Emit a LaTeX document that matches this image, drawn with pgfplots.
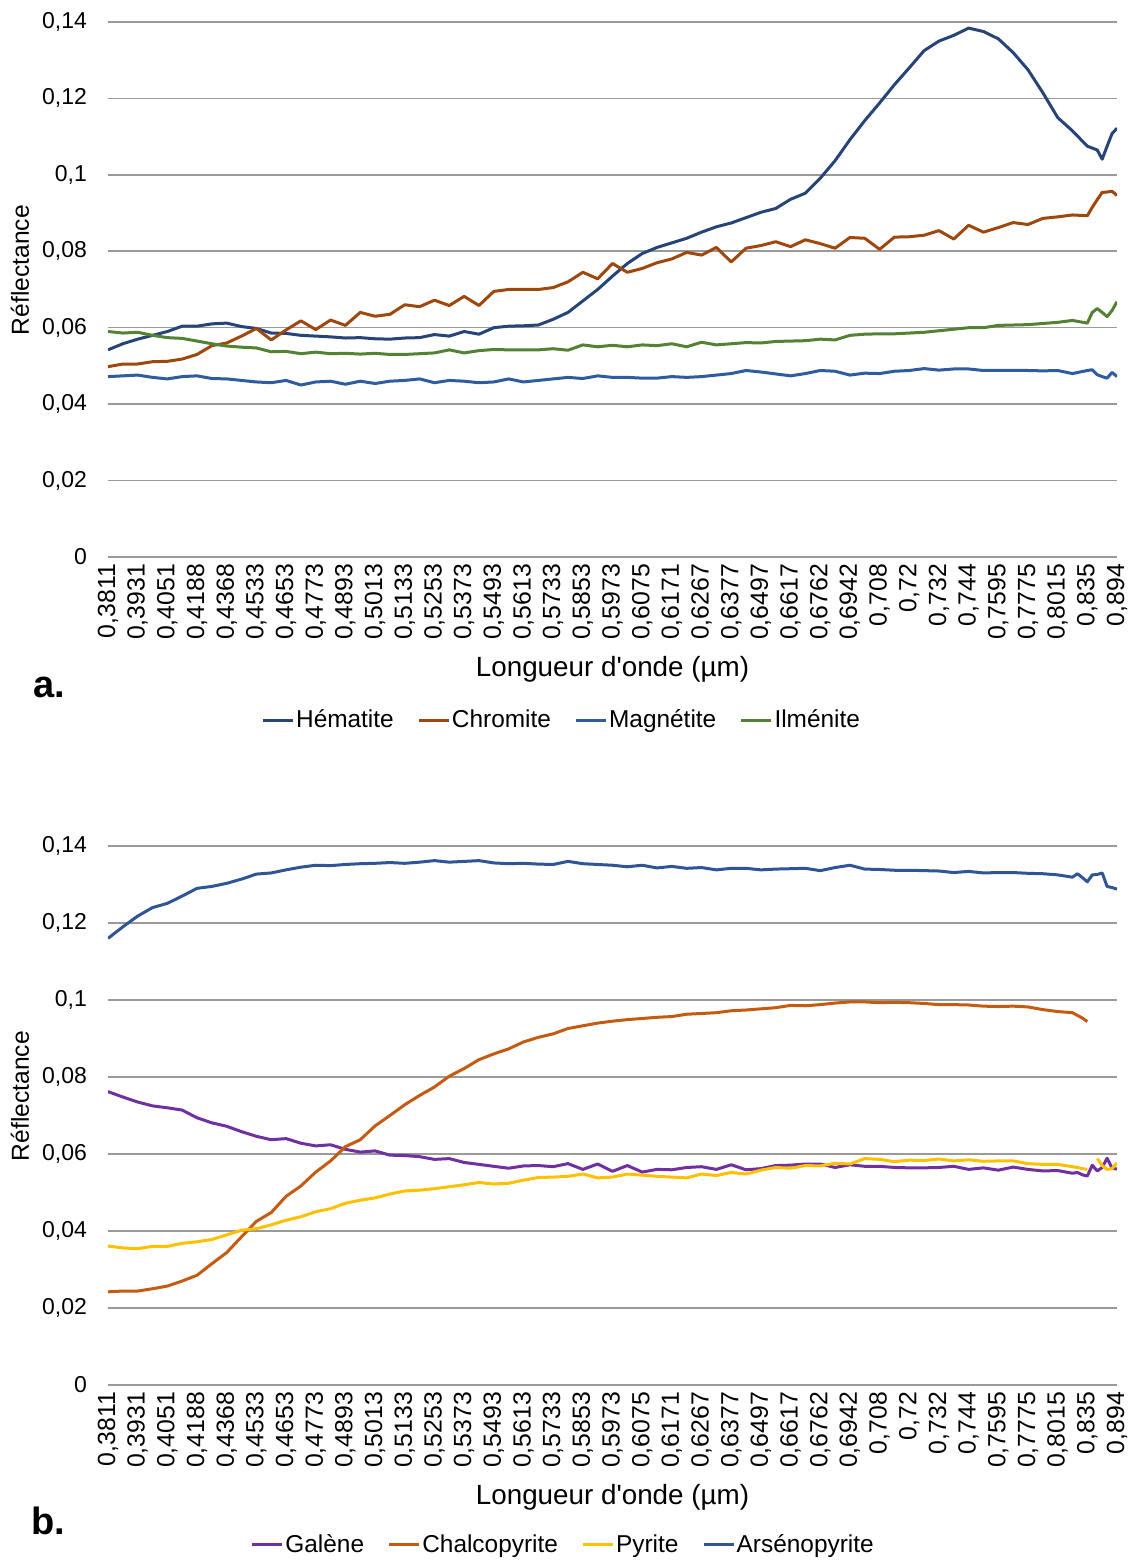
\documentclass[border=0pt]{standalone}
\usepackage{fontspec}
\setmainfont{Liberation Sans}
\usepackage{pgfplots}
\usepackage{pgfplotstable}
\pgfplotsset{compat=1.18}

\definecolor{hem}{HTML}{264478}
\definecolor{chr}{HTML}{9E480E}
\definecolor{mag}{HTML}{2F5C9E}
\definecolor{ilm}{HTML}{548235}
\definecolor{gal}{HTML}{7030A0}
\definecolor{chp}{HTML}{C55A11}
\definecolor{pyr}{HTML}{FFC000}
\definecolor{ars}{HTML}{2F5597}
\definecolor{gridgray}{HTML}{9A9A9A}

% Panel a: oxides (column i = index of the wavelength sample)
\pgfplotstableread{
i    hem    chr    mag    ilm
0   0.0542 0.0498 0.0472 0.0590
3   0.0558 0.0505 0.0474 0.0586
6   0.0570 0.0505 0.0476 0.0588
9   0.0580 0.0511 0.0470 0.0580
12  0.0590 0.0512 0.0466 0.0574
15  0.0604 0.0518 0.0472 0.0572
18  0.0604 0.0530 0.0474 0.0565
21  0.0610 0.0553 0.0467 0.0558
24  0.0612 0.0560 0.0466 0.0552
27  0.0603 0.0578 0.0462 0.0549
30  0.0598 0.0598 0.0458 0.0547
33  0.0586 0.0568 0.0456 0.0537
36  0.0585 0.0594 0.0462 0.0538
39  0.0580 0.0618 0.0450 0.0532
42  0.0578 0.0595 0.0458 0.0536
45  0.0576 0.0620 0.0460 0.0532
48  0.0573 0.0606 0.0452 0.0533
51  0.0574 0.0640 0.0460 0.0531
54  0.0571 0.0630 0.0454 0.0533
57  0.0570 0.0635 0.0460 0.0530
60  0.0573 0.0660 0.0462 0.0530
63  0.0574 0.0655 0.0466 0.0532
66  0.0582 0.0672 0.0456 0.0534
69  0.0578 0.0658 0.0462 0.0542
72  0.0590 0.0682 0.0460 0.0534
75  0.0583 0.0658 0.0456 0.0540
78  0.0600 0.0695 0.0458 0.0543
81  0.0604 0.0700 0.0466 0.0542
84  0.0605 0.0700 0.0458 0.0542
87  0.0607 0.0700 0.0462 0.0542
90  0.0622 0.0705 0.0466 0.0545
93  0.0640 0.0720 0.0470 0.0541
96  0.0670 0.0745 0.0467 0.0555
99  0.0700 0.0728 0.0474 0.0550
102 0.0735 0.0768 0.0470 0.0554
105 0.0768 0.0745 0.0470 0.0550
108 0.0794 0.0755 0.0468 0.0555
111 0.0810 0.0770 0.0468 0.0553
114 0.0822 0.0780 0.0472 0.0558
117 0.0834 0.0797 0.0470 0.0550
120 0.0850 0.0790 0.0472 0.0562
123 0.0864 0.0810 0.0476 0.0555
126 0.0874 0.0772 0.0480 0.0558
129 0.0888 0.0808 0.0488 0.0561
132 0.0902 0.0815 0.0484 0.0560
135 0.0912 0.0825 0.0479 0.0564
138 0.0936 0.0812 0.0474 0.0565
141 0.0952 0.0830 0.0480 0.0566
144 0.0991 0.0820 0.0488 0.0570
147 0.1037 0.0808 0.0486 0.0568
150 0.1092 0.0836 0.0476 0.0580
153 0.1142 0.0834 0.0481 0.0583
156 0.1188 0.0805 0.0480 0.0584
159 0.1236 0.0837 0.0486 0.0584
162 0.1280 0.0838 0.0488 0.0586
165 0.1325 0.0842 0.0493 0.0588
168 0.1350 0.0854 0.0489 0.0592
171 0.1365 0.0832 0.0492 0.0596
174 0.1384 0.0868 0.0492 0.0600
177 0.1375 0.0850 0.0488 0.0600
180 0.1356 0.0862 0.0488 0.0606
183 0.1320 0.0875 0.0488 0.0607
186 0.1275 0.0870 0.0488 0.0608
189 0.1215 0.0886 0.0487 0.0611
192 0.1150 0.0890 0.0488 0.0614
195 0.1115 0.0895 0.0480 0.0619
198 0.1075 0.0893 0.0488 0.0612
199 0.1070 0.0915 0.0490 0.0640
200 0.1065 0.0935 0.0477 0.0650
201 0.1041 0.0954 0.0472 0.0640
202 0.1075 0.0955 0.0468 0.0629
203 0.1108 0.0957 0.0483 0.0645
204 0.1122 0.0946 0.0472 0.0668
}\oxydes

% Panel b: sulphides
\pgfplotstableread{
i    gal    chp    pyr    ars
0   0.0762 0.0242 0.0361 0.1160
3   0.0748 0.0244 0.0356 0.1190
6   0.0735 0.0244 0.0354 0.1218
9   0.0725 0.0250 0.0360 0.1240
12  0.0720 0.0257 0.0360 0.1251
15  0.0714 0.0270 0.0368 0.1270
18  0.0694 0.0285 0.0372 0.1290
21  0.0681 0.0315 0.0378 0.1295
24  0.0672 0.0344 0.0390 0.1303
27  0.0658 0.0385 0.0402 0.1314
30  0.0646 0.0425 0.0406 0.1327
33  0.0637 0.0448 0.0416 0.1330
36  0.0640 0.0490 0.0428 0.1338
39  0.0628 0.0517 0.0437 0.1345
42  0.0621 0.0553 0.0450 0.1350
45  0.0624 0.0582 0.0458 0.1349
48  0.0612 0.0619 0.0472 0.1352
51  0.0605 0.0637 0.0480 0.1354
54  0.0608 0.0673 0.0486 0.1355
57  0.0597 0.0700 0.0496 0.1357
60  0.0596 0.0728 0.0504 0.1355
63  0.0593 0.0752 0.0506 0.1358
66  0.0586 0.0774 0.0510 0.1362
69  0.0588 0.0802 0.0515 0.1358
72  0.0578 0.0822 0.0520 0.1360
75  0.0573 0.0845 0.0526 0.1362
78  0.0568 0.0860 0.0522 0.1356
81  0.0563 0.0873 0.0524 0.1354
84  0.0569 0.0891 0.0532 0.1355
87  0.0570 0.0903 0.0539 0.1353
90  0.0567 0.0912 0.0540 0.1352
93  0.0575 0.0926 0.0542 0.1360
96  0.0560 0.0933 0.0548 0.1354
99  0.0574 0.0940 0.0538 0.1352
102 0.0555 0.0945 0.0540 0.1350
105 0.0570 0.0949 0.0548 0.1346
108 0.0553 0.0952 0.0545 0.1350
111 0.0560 0.0955 0.0542 0.1343
114 0.0559 0.0957 0.0540 0.1347
117 0.0565 0.0963 0.0538 0.1342
120 0.0567 0.0965 0.0548 0.1344
123 0.0560 0.0967 0.0544 0.1338
126 0.0572 0.0972 0.0552 0.1342
129 0.0559 0.0974 0.0548 0.1342
132 0.0562 0.0977 0.0558 0.1338
135 0.0570 0.0980 0.0565 0.1340
138 0.0571 0.0986 0.0563 0.1341
141 0.0574 0.0985 0.0570 0.1342
144 0.0574 0.0988 0.0569 0.1336
147 0.0565 0.0992 0.0576 0.1344
150 0.0572 0.0995 0.0574 0.1350
153 0.0568 0.0995 0.0588 0.1340
156 0.0568 0.0993 0.0586 0.1339
159 0.0565 0.0994 0.0580 0.1337
162 0.0564 0.0993 0.0584 0.1337
165 0.0564 0.0991 0.0583 0.1336
168 0.0565 0.0988 0.0587 0.1335
171 0.0568 0.0988 0.0582 0.1331
174 0.0560 0.0987 0.0585 0.1334
177 0.0564 0.0984 0.0581 0.1330
180 0.0558 0.0983 0.0582 0.1331
183 0.0566 0.0984 0.0582 0.1331
186 0.0560 0.0982 0.0575 0.1329
189 0.0556 0.0975 0.0573 0.1328
192 0.0557 0.0970 0.0573 0.1325
195 0.0550 0.0967 0.0567 0.1319
196 0.0552 0.0960 0.0565 0.1328
197 0.0546 0.0953 0.0562 0.1318
198 0.0543 0.0944 0.0560 0.1307
199 0.0571 nan    nan    0.1325
200 0.0556 nan    0.0588 0.1326
201 0.0565 nan    0.0570 0.1330
202 0.0589 nan    0.0560 0.1295
203 0.0563 nan    0.0562 0.1292
204 0.0561 nan    0.0577 0.1288
}\sulfures

\pgfplotsset{
  spectre/.style={
    scale only axis,
    width=504.5pt,
    xmin=0, xmax=204, ymin=0, ymax=0.14,
    axis line style={draw=none},
    major tick length=0pt,
    ytick={0,0.02,0.04,0.06,0.08,0.1,0.12,0.14},
    yticklabels={0,{0,02},{0,04},{0,06},{0,08},{0,1},{0,12},{0,14}},
    xtick={0,6,...,204},
    xticklabels={{0,3811},{0,3931},{0,4051},{0,4188},{0,4368},{0,4533},{0,4653},
      {0,4773},{0,4893},{0,5013},{0,5133},{0,5253},{0,5373},{0,5493},{0,5613},
      {0,5733},{0,5853},{0,5973},{0,6075},{0,6171},{0,6267},{0,6377},{0,6497},
      {0,6617},{0,6762},{0,6942},{0,708},{0,72},{0,732},{0,744},{0,7595},
      {0,7775},{0,8015},{0,835},{0,894}},
    ymajorgrids,
    grid style={color=gridgray, line width=0.8pt},
    yticklabel style={font=\fontsize{11.5}{12}\selectfont, xshift=-7pt},
    xticklabel style={rotate=90, anchor=east, font=\fontsize{12.4}{13}\selectfont},
    xlabel={Longueur d\textquotesingle onde (µm)},
    ylabel={Réflectance},
    every axis x label/.style={at={(axis description cs:0.5,0)}, yshift=-56pt,
      anchor=center, font=\fontsize{13.9}{14}\selectfont},
    every axis y label/.style={at={(axis description cs:-0.0872,0.536)}, rotate=90,
      anchor=center, font=\fontsize{12.3}{13}\selectfont},
    unbounded coords=jump,
    legend columns=4,
    legend style={draw=none, fill=none, font=\fontsize{12.2}{13}\selectfont,
      anchor=center, inner xsep=0pt,
      nodes={inner xsep=0.8pt},
      /tikz/every even column/.append style={column sep=11pt}},
    legend image code/.code={\draw[#1] (0pt,0pt) -- (15pt,0pt);},
    every axis plot/.append style={line width=1.5pt, no marks, line join=round},
  }
}

\begin{document}
\begin{tikzpicture}
\useasboundingbox (0,0) rectangle (568pt,781pt);

\begin{axis}[spectre, height=267.5pt, at={(54pt,502.5pt)}, anchor=south west,
  legend style={at={(axis description cs:0.4495,-0.3047)}}]
  \addplot[hem] table[x=i, y=hem] {\oxydes};
  \addlegendentry{Hématite}
  \addplot[chr] table[x=i, y=chr] {\oxydes};
  \addlegendentry{Chromite}
  \addplot[mag] table[x=i, y=mag] {\oxydes};
  \addlegendentry{Magnétite}
  \addplot[ilm] table[x=i, y=ilm] {\oxydes};
  \addlegendentry{Ilménite}
\end{axis}

\begin{axis}[spectre, height=269.5pt, at={(54pt,88.5pt)}, anchor=south west,
  legend style={at={(axis description cs:0.451,-0.2968)}}]
  \addplot[gal] table[x=i, y=gal] {\sulfures};
  \addlegendentry{Galène}
  \addplot[chp] table[x=i, y=chp] {\sulfures};
  \addlegendentry{Chalcopyrite}
  \addplot[pyr] table[x=i, y=pyr] {\sulfures};
  \addlegendentry{Pyrite}
  \addplot[ars] table[x=i, y=ars] {\sulfures};
  \addlegendentry{Arsénopyrite}
\end{axis}

\node[font=\bfseries\fontsize{19}{19}\selectfont] at (24.5pt,437.5pt) {a.};
\node[font=\bfseries\fontsize{19}{19}\selectfont] at (24pt,20.5pt) {b.};
\end{tikzpicture}
\end{document}
